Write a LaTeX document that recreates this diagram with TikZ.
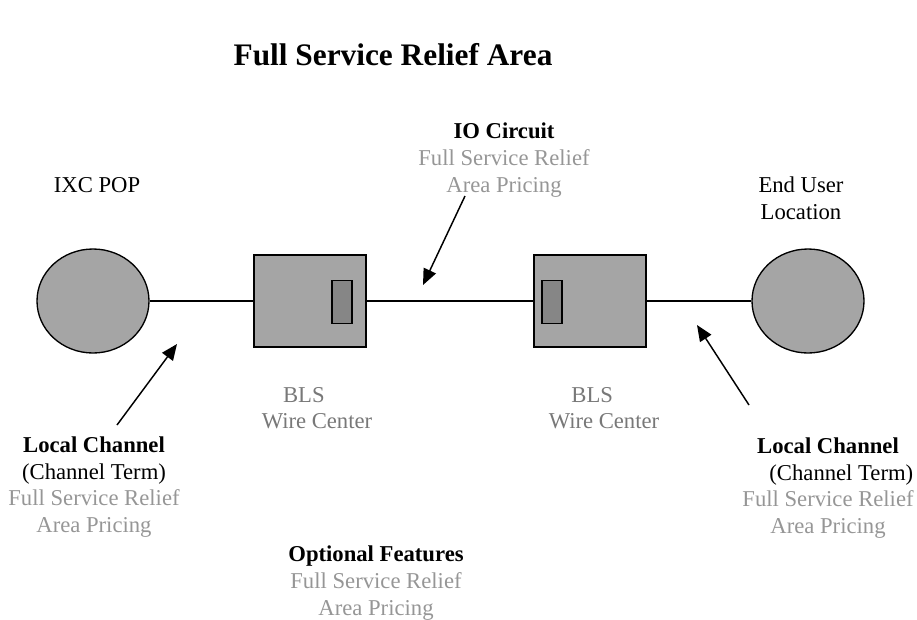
\documentclass[tikz,border=0pt]{standalone}
\usepackage{fontspec}
\setmainfont{Liberation Serif}
\usepackage{tikz}
\usetikzlibrary{arrows.meta,shapes.geometric}

\definecolor{shapefill}{RGB}{165,165,165}
\definecolor{portfill}{RGB}{134,134,134}
\definecolor{pricegray}{RGB}{150,150,150}
\definecolor{blsgray}{RGB}{120,120,120}

\tikzset{
	pop/.style={ellipse, draw, line width=1pt, fill=shapefill, minimum width=84pt, minimum height=78pt, inner sep=0pt},
	wirectr/.style={rectangle, draw, line width=1.2pt, fill=shapefill, minimum width=84pt, minimum height=69pt, inner sep=0pt},
	port/.style={rectangle, draw, line width=1pt, fill=portfill, minimum width=15pt, minimum height=32pt, inner sep=0pt},
	txt/.style={inner sep=0pt, align=center, font=\fontsize{17}{20}\selectfont},
	price/.style={text=pricegray},
}

\begin{document}
\begin{tikzpicture}[x=0.75pt, y=-0.75pt, >={Triangle[length=12pt,width=10pt]}]
		\useasboundingbox (0,0) rectangle (917,619);
		
		\node[inner sep=0pt, font=\fontsize{23.5}{28}\bfseries] (title) at (393,55) {Full Service Relief Area};
		
		\node[pop] (ixc) at (93,301) {};
		\node[wirectr] (bls1) at (310,301) {};
		\node[port] (p1) at (342,302) {};
		\node[wirectr] (bls2) at (590,301) {};
		\node[port] (p2) at (552,302) {};
		\node[pop] (enduser) at (808,301) {};
		
		\draw[line width=1.1pt] (ixc) -- (bls1);
		\draw[line width=1.1pt] (bls1) -- (bls2);
		\draw[line width=1.1pt] (bls2) -- (enduser);
		
		\node[txt] (ixclbl) at (97,185) {IXC POP};
		\node[txt] (endlbl) at (801,198) {End User\\Location};
		\node[txt, align=left, text=blsgray] (bls1lbl) at (317,408) {\hspace*{16pt}BLS\\Wire Center};
		\node[txt, align=left, text=blsgray] (bls2lbl) at (604,408) {\hspace*{17pt}BLS\\Wire Center};
		
		\node[txt] (iolbl) at (504,160) {\textbf{IO Circuit}\\{\color{pricegray}Full Service Relief}\\{\color{pricegray}Area Pricing}};
		\node[txt] (lcleft) at (94,487) {\textbf{Local Channel}\\(Channel Term)\\{\color{pricegray}Full Service Relief}\\{\color{pricegray}Area Pricing}};
		\node[txt] (lcright) at (828,488) {\textbf{Local Channel}\\\hspace*{20pt}(Channel Term)\\{\color{pricegray}Full Service Relief}\\{\color{pricegray}Area Pricing}};
		\node[txt] (optlbl) at (376,583) {\textbf{Optional Features}\\{\color{pricegray}Full Service Relief}\\{\color{pricegray}Area Pricing}};
		
		\coordinate (ioTail) at (465,196);
		\coordinate (ioTip) at (423,285);
		\coordinate (lcTailL) at (117,425);
		\coordinate (lcTipL) at (177,344);
		\coordinate (lcTailR) at (749,405);
		\coordinate (lcTipR) at (697,325);
		
		\draw[->, line width=1.1pt] (ioTail) -- (ioTip);
		\draw[->, line width=1.1pt] (lcTailL) -- (lcTipL);
		\draw[->, line width=1.1pt] (lcTailR) -- (lcTipR);
		
	\end{tikzpicture}
\end{document}
